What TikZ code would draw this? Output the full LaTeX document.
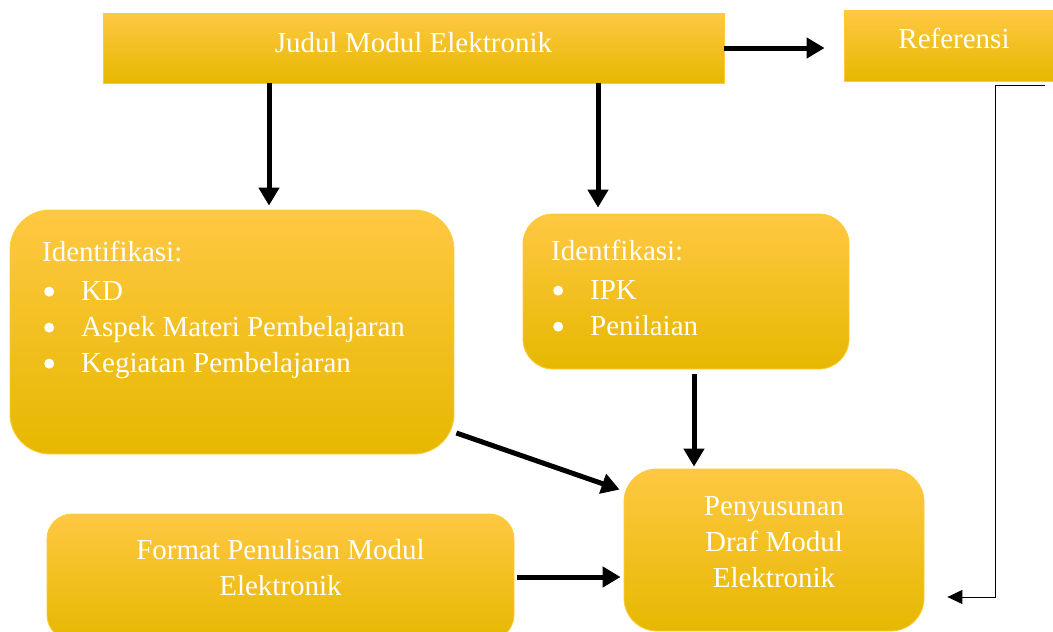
\documentclass[tikz,border=0pt]{standalone}
\usepackage{fontspec}
\setmainfont{Liberation Serif}
\usetikzlibrary{arrows.meta}
\definecolor{gtop}{HTML}{FFC843}
\definecolor{gmid}{HTML}{FFC000}
\definecolor{gbot}{HTML}{E6B800}
\definecolor{gline}{HTML}{FFCB33}
\newcommand{\bdot}{\raisebox{3.5pt}{\tikz\fill[white] (0,0) circle (5pt);}}
\newcommand{\bitem}[1]{\makebox[39pt][l]{\hspace{2pt}\bdot}#1}
\begin{document}
\begin{tikzpicture}[x=1pt,y=-1pt,
  box/.style={draw=gline, line width=0.8pt, top color=gtop, middle color=gmid, bottom color=gbot, inner sep=0pt},
  txt/.style={text=white, inner sep=0pt, font=\fontsize{29}{36}\selectfont},
  arr/.style={line width=5pt, -{Triangle[length=18pt,width=20pt]}},
  thinarr/.style={line width=1pt, -{Triangle[length=15pt,width=14pt]}}]
\useasboundingbox (0,0) rectangle (1053,632);
\clip (0,0) rectangle (1053,632);

% boxes
\node[box, minimum width=621pt, minimum height=70pt] (judul) at (413.5,48) {};
\node[box, minimum width=216pt, minimum height=71pt] (ref) at (952,45.5) {};
\node[box, rounded corners=40pt, minimum width=444pt, minimum height=244pt] (idA) at (232,332) {};
\node[box, rounded corners=30pt, minimum width=326pt, minimum height=155pt] (idB) at (686,291.5) {};
\node[box, rounded corners=33pt, minimum width=300pt, minimum height=162pt] (pen) at (774,550) {};
\node[box, rounded corners=25pt, minimum width=467pt, minimum height=126pt] (fmt) at (280.5,577) {};

% texts
\node[txt, anchor=base] (judulT) at (413.5,52) {Judul Modul Elektronik};
\node[txt, anchor=base] (refT) at (954,48) {Referensi};
\node[txt, anchor=north west, align=left] (idAT) at (42,241)
  {Identifikasi:\\[2.5pt] \bitem{KD}\\ \bitem{Aspek Materi Pembelajaran}\\ \bitem{Kegiatan Pembelajaran}};
\node[txt, anchor=north west, align=left] (idBT) at (551,240)
  {Identfikasi:\\[2.5pt] \bitem{IPK}\\ \bitem{Penilaian}};
\node[txt, anchor=north, align=center] (penT) at (774,496)
  {Penyusunan\\ Draf Modul\\ Elektronik};
\node[txt, anchor=north, align=center] (fmtT) at (280.5,539)
  {Format Penulisan Modul\\ Elektronik};

% connectors
\draw[arr, shorten >=19pt] (judul.east) -- (judul.east -| ref.west);
\draw[arr, shorten >=4pt] ([xshift=-144.5pt]judul.south) -- ([xshift=-144.5pt]judul.south |- idA.north);
\draw[arr, shorten >=6pt] ([xshift=184.5pt]judul.south) -- ([xshift=184.5pt]judul.south |- idB.north);
\draw[arr, shorten <=5pt, shorten >=2pt] ([xshift=8pt]idB.south) -- ([xshift=8pt]idB.south |- pen.north);
\draw[arr] ([xshift=2pt,yshift=-101pt]idA.east) -- ([xshift=-4pt,yshift=-21pt]pen.north west);
\draw[arr, shorten <=3pt, shorten >=3pt] (fmt.east) -- (fmt.east -| pen.west);
\draw[thinarr] ([xshift=93pt,yshift=-4pt]ref.south) -- ++(-50pt,0) |- ([xshift=23pt,yshift=-47pt]pen.east);
\end{tikzpicture}
\end{document}
